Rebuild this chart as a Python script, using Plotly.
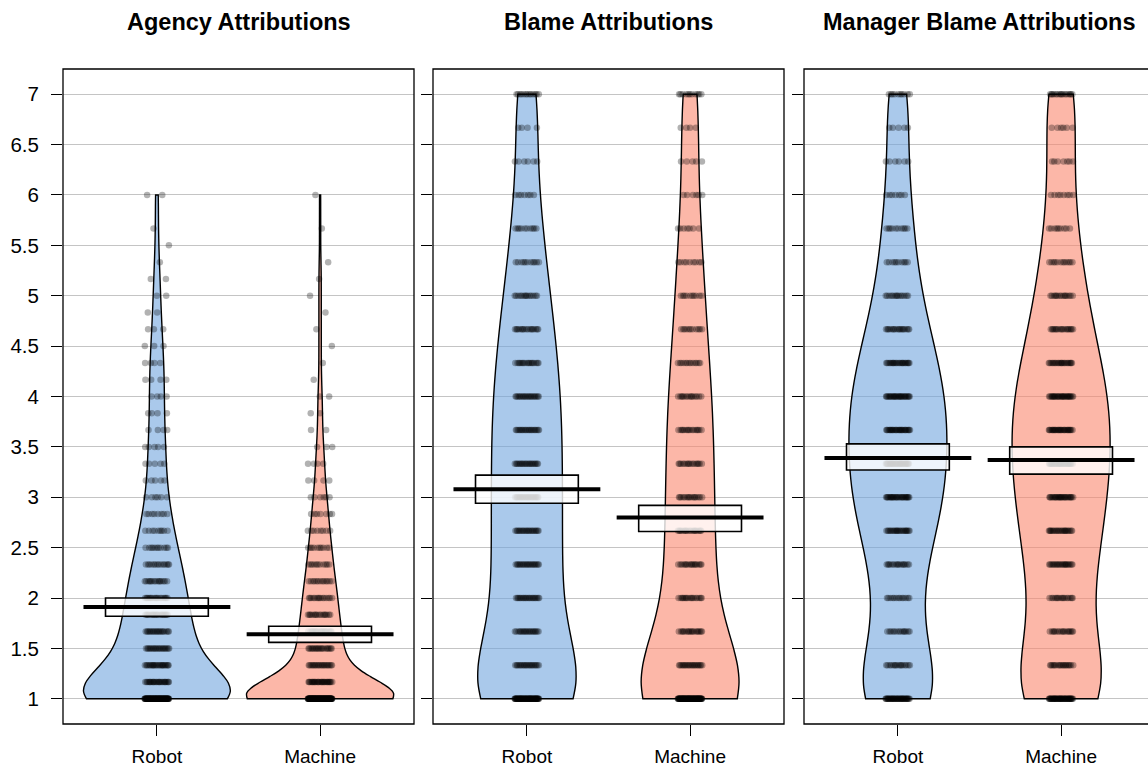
import numpy as np
import plotly.graph_objects as go

# ---- data -------------------------------------------------------------
groups = ["Robot", "Machine"]
panel_titles = ["Agency Attributions", "Blame Attributions", "Manager Blame Attributions"]

# response scale points (agency: mean of 6 items, blame scales: mean of 3 items)
agency_levels = [1.0, 1.167, 1.333, 1.5, 1.667, 1.833, 2.0, 2.167, 2.333, 2.5, 2.667,
                 2.833, 3.0, 3.167, 3.333, 3.5, 3.667, 3.833, 4.0, 4.167, 4.333, 4.5,
                 4.667, 4.833, 5.0, 5.167, 5.333, 5.5, 5.667, 5.833, 6.0]
blame_levels = [1.0, 1.333, 1.667, 2.0, 2.333, 2.667, 3.0, 3.333, 3.667, 4.0, 4.333,
                4.667, 5.0, 5.333, 5.667, 6.0, 6.333, 6.667, 7.0]

# number of participants at each scale point
agency_robot = [102, 26, 24, 21, 20, 18, 17, 15, 14, 11, 9, 8, 6, 5, 5, 5, 4, 4, 4,
                4, 4, 3, 3, 2, 2, 2, 1, 1, 1, 0, 2]
agency_machine = [132, 29, 21, 20, 18, 16, 15, 13, 11, 10, 8, 7, 6, 4, 4, 3, 2, 2, 2,
                  1, 1, 1, 1, 1, 1, 1, 1, 0, 1, 0, 1]
blame_robot = [72, 21, 20, 21, 21, 21, 21, 21, 21, 21, 18, 17, 14, 11, 10, 7, 6, 4, 13]
blame_machine = [92, 21, 18, 17, 17, 17, 16, 16, 16, 15, 13, 11, 10, 9, 7, 6, 5, 4, 11]
manager_robot = [42, 16, 14, 13, 16, 23, 28, 29, 29, 29, 24, 18, 14, 10, 10, 7, 6, 5, 10]
manager_machine = [50, 19, 17, 16, 22, 23, 27, 29, 29, 29, 23, 18, 15, 12, 9, 8, 7, 6, 16]

# means and 95% intervals (Robot, Machine)
agency_mean = [1.91, 1.64]
agency_lo = [1.82, 1.56]
agency_hi = [2.00, 1.72]
blame_mean = [3.08, 2.80]
blame_lo = [2.94, 2.66]
blame_hi = [3.22, 2.92]
manager_mean = [3.39, 3.37]
manager_lo = [3.27, 3.23]
manager_hi = [3.53, 3.50]

y_ticks = [1, 1.5, 2, 2.5, 3, 3.5, 4, 4.5, 5, 5.5, 6, 6.5, 7]
y_tick_labels = ["1", "1.5", "2", "2.5", "3", "3.5", "4", "4.5", "5", "5.5", "6", "6.5", "7"]

panels = [
    dict(levels=agency_levels, counts=[agency_robot, agency_machine],
         mean=agency_mean, lo=agency_lo, hi=agency_hi, bean_half=0.45, bw_adjust=0.8),
    dict(levels=blame_levels, counts=[blame_robot, blame_machine],
         mean=blame_mean, lo=blame_lo, hi=blame_hi, bean_half=0.30, bw_adjust=1.0),
    dict(levels=blame_levels, counts=[manager_robot, manager_machine],
         mean=manager_mean, lo=manager_lo, hi=manager_hi, bean_half=0.30, bw_adjust=1.0),
]

# ---- style ------------------------------------------------------------
FONT = "Liberation Sans, Arial, Helvetica, sans-serif"
BEAN_FILL = ["rgba(113,165,222,0.6)", "rgba(250,135,110,0.6)"]
POINT_COLOR = "rgba(0,0,0,0.3)"
GRID = "#c4c4c4"

W, H = 1148, 769
ML, MT, MB = 63, 69, 45
PLOT_W = W - ML
PLOT_H = H - MT - MB
PANEL_LEFT = [63, 433, 804]
PANEL_W = 351
X_LO, X_HI = 0.4245, 2.5755
Y_RANGE = [0.75, 7.25]
JITTER = 0.075
AVG_HALF = 0.45
INF_HALF = 0.315
GOLD = 0.6180339887


def nrd0(v):
    """Silverman's rule of thumb as used by R's density()."""
    sd = np.std(v, ddof=1)
    iqr = np.percentile(v, 75) - np.percentile(v, 25)
    spread = min(sd, iqr / 1.34) if iqr > 0 else sd
    return 0.9 * spread * len(v) ** -0.2


fig = go.Figure()
shapes = []
annotations = []

for p, panel in enumerate(panels):
    suffix = "" if p == 0 else str(p + 1)
    xa, ya = "x" + suffix, "y" + suffix
    for g, counts in enumerate(panel["counts"]):
        pos = g + 1
        values = np.repeat(np.array(panel["levels"]), counts)

        fig.add_trace(go.Violin(
            x0=pos, y=values, xaxis=xa, yaxis=ya,
            width=2 * panel["bean_half"], scalemode="width", spanmode="hard",
            bandwidth=nrd0(values) * panel["bw_adjust"], side="both",
            fillcolor=BEAN_FILL[g], line=dict(color="black", width=1.4),
            points=False, box_visible=False, meanline_visible=False,
            hoverinfo="skip", showlegend=False,
        ))

        # horizontally spread raw responses
        xs, ys = [], []
        for li, (lev, n) in enumerate(zip(panel["levels"], counts)):
            for k in range(n):
                frac = (k * GOLD + li * 0.37 + g * 0.21) % 1.0
                xs.append(pos + (frac - 0.5) * 2 * JITTER)
                ys.append(lev)
        fig.add_trace(go.Scatter(
            x=xs, y=ys, xaxis=xa, yaxis=ya, mode="markers",
            marker=dict(size=6.5, color=POINT_COLOR, line=dict(width=0)),
            hoverinfo="skip", showlegend=False,
        ))

        # inference band and average line
        shapes.append(dict(type="rect", xref=xa, yref=ya, layer="above",
                           x0=pos - INF_HALF, x1=pos + INF_HALF,
                           y0=panel["lo"][g], y1=panel["hi"][g],
                           fillcolor="rgba(255,255,255,0.8)",
                           line=dict(color="black", width=1.6)))
        shapes.append(dict(type="line", xref=xa, yref=ya, layer="above",
                           x0=pos - AVG_HALF, x1=pos + AVG_HALF,
                           y0=panel["mean"][g], y1=panel["mean"][g],
                           line=dict(color="black", width=4)))

    # panel geometry
    left = PANEL_LEFT[p]
    right = min(left + PANEL_W, W)
    dom = [(left - ML) / PLOT_W, (right - ML) / PLOT_W]
    x_hi = X_LO + (X_HI - X_LO) * (right - left) / PANEL_W

    fig.update_layout(**{
        ("xaxis" + suffix): dict(
            domain=dom, range=[X_LO, x_hi], type="linear", automargin=False,
            tickvals=[1, 2], ticktext=groups, ticks="outside", ticklen=11,
            tickwidth=1.3, tickcolor="black", showgrid=False, zeroline=False,
            showline=False, anchor=ya,
            tickfont=dict(family=FONT, size=19, color="black"),
            ticklabelstandoff=4,
        ),
        ("yaxis" + suffix): dict(
            domain=[0, 1], range=Y_RANGE, anchor=xa, automargin=False,
            tickvals=y_ticks, ticktext=y_tick_labels, ticks="outside", ticklen=11,
            tickwidth=1.3, tickcolor="black", showticklabels=(p == 0),
            showgrid=True, gridcolor=GRID, gridwidth=1.2, zeroline=False,
            showline=False,
            tickfont=dict(family=FONT, size=20.5, color="black"),
            ticklabelstandoff=8,
        ),
    })

    # panel frame (third frame runs past the page edge)
    shapes.append(dict(type="rect", xref="paper", yref="paper", layer="above",
                       x0=(left - ML) / PLOT_W, x1=(left + PANEL_W - ML) / PLOT_W,
                       y0=0, y1=1, line=dict(color="black", width=1.3),
                       fillcolor="rgba(0,0,0,0)"))

    annotations.append(dict(
        text=panel_titles[p], xref="paper", yref="paper",
        x=(left + PANEL_W / 2 - ML) / PLOT_W, y=1 + (MT - 22) / PLOT_H,
        xanchor="center", yanchor="middle", showarrow=False,
        font=dict(family=FONT, size=23.5, color="black", weight="bold"),
    ))

fig.update_layout(
    width=W, height=H,
    margin=dict(l=ML, r=0, t=MT, b=MB, pad=0, autoexpand=False),
    paper_bgcolor="white", plot_bgcolor="white",
    violinmode="overlay", showlegend=False,
    shapes=shapes, annotations=annotations,
)

fig.write_html("out.html")
